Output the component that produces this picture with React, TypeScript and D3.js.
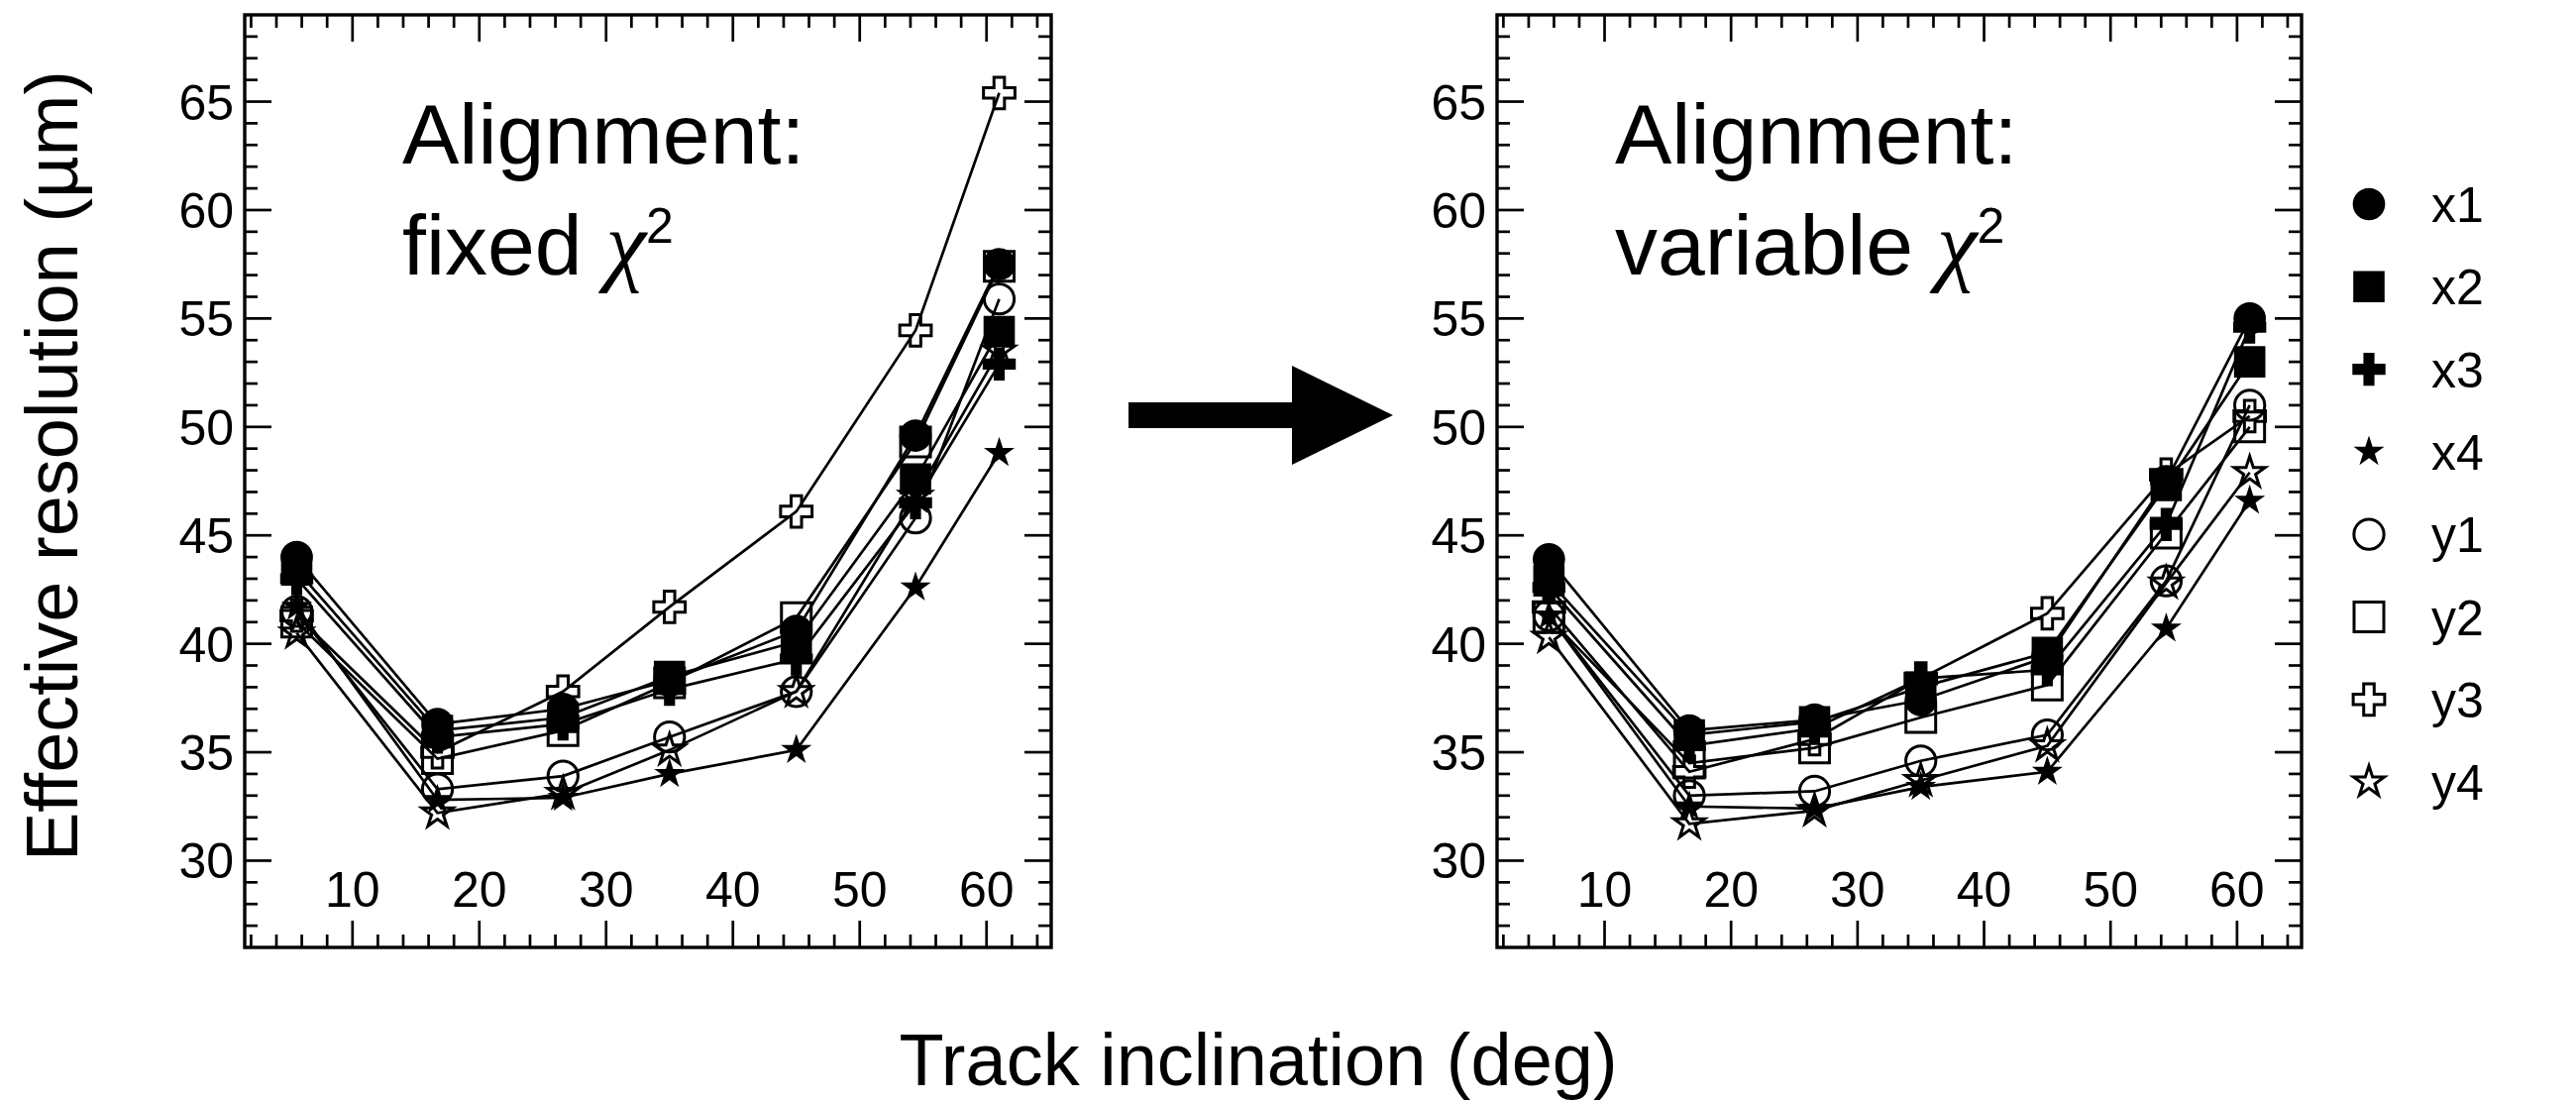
import React from 'react';
import * as d3 from 'd3';

// ---- data ----
const angles = [5.6, 16.7, 26.6, 35, 45, 54.4, 61];
const seriesNames = ['x1', 'x2', 'x3', 'x4', 'y1', 'y2', 'y3', 'y4'];

const fixedX1 = [44.0, 36.3, 37.0, 38.3, 40.6, 49.6, 57.5];
const fixedX2 = [43.4, 36.0, 36.6, 38.5, 40.1, 47.6, 54.4];
const fixedX3 = [43.0, 35.7, 36.3, 37.9, 39.3, 46.5, 52.9];
const fixedX4 = [41.7, 32.8, 32.9, 34.0, 35.1, 42.6, 48.8];
const fixedY1 = [41.5, 33.3, 33.9, 35.7, 37.8, 45.8, 55.9];
const fixedY2 = [41.0, 34.7, 36.0, 38.2, 41.2, 49.3, 57.4];
const fixedY3 = [41.3, 35.0, 37.8, 41.7, 46.1, 54.45, 65.4];
const fixedY4 = [40.5, 32.2, 33.1, 35.1, 37.8, 46.8, 53.5];

const varX1 = [43.9, 36.0, 36.5, 37.4, 39.4, 47.5, 55.0];
const varX2 = [42.9, 35.8, 36.4, 38.0, 39.6, 47.3, 53.0];
const varX3 = [42.6, 35.3, 36.1, 38.4, 38.8, 45.5, 54.6];
const varX4 = [41.3, 32.5, 32.4, 33.4, 34.1, 40.7, 46.6];
const varY1 = [41.3, 33.0, 33.2, 34.6, 35.8, 42.9, 51.0];
const varY2 = [41.2, 34.5, 35.2, 36.6, 38.1, 45.1, 50.0];
const varY3 = [41.7, 34.1, 35.6, 38.4, 41.4, 47.8, 50.5];
const varY4 = [40.3, 31.7, 32.3, 33.7, 35.3, 42.8, 47.9];

const fixedSeries = [fixedX1, fixedX2, fixedX3, fixedX4, fixedY1, fixedY2, fixedY3, fixedY4];
const variableSeries = [varX1, varX2, varX3, varX4, varY1, varY2, varY3, varY4];

const xMajorTicks = [10, 20, 30, 40, 50, 60];
const yMajorTicks = [30, 35, 40, 45, 50, 55, 60, 65];

const xTitle = 'Track inclination (deg)';
const yTitle = 'Effective resolution (µm)';

// ---- style ----
const W = 2600;
const H = 1113;
const FONT = "'Liberation Sans', Arial, Helvetica, sans-serif";
const SERIF = "'Liberation Serif', 'Times New Roman', serif";
const TOP = 15;
const BOTTOM = 956;

const markerStyles = [
  { type: d3.symbolCircle, size: 840, filled: true },
  { type: d3.symbolSquare, size: 1000, filled: true },
  { type: d3.symbolCross, size: 620, filled: true },
  { type: d3.symbolStar, size: 300, filled: true },
  { type: d3.symbolCircle, size: 720, filled: false },
  { type: d3.symbolSquare, size: 900, filled: false },
  { type: d3.symbolCross, size: 560, filled: false },
  { type: d3.symbolStar, size: 300, filled: false },
];

function Marker({ i, cx, cy }: { i: number; cx: number; cy: number }) {
  const m = markerStyles[i];
  const d = d3.symbol(m.type, m.size)() as string;
  return (
    <path
      d={d}
      transform={`translate(${cx},${cy})`}
      fill={m.filled ? '#000' : 'none'}
      stroke="#000"
      strokeWidth={m.filled ? 0 : 3}
      strokeLinejoin="miter"
    />
  );
}

function Panel({
  left,
  right,
  series,
  line2,
  textDx,
}: {
  left: number;
  right: number;
  series: number[][];
  line2: string;
  textDx: number;
}) {
  const x = d3.scaleLinear().domain([1.5, 65.1]).range([left, right]);
  const y = d3.scaleLinear().domain([26, 69]).range([BOTTOM, TOP]);
  const xMinor = d3.range(2, 65, 2).filter((v) => v % 10 !== 0);
  const yMinor = d3.range(27, 69, 1).filter((v) => v % 5 !== 0);
  const line = d3
    .line<number>()
    .x((_, k) => x(angles[k]))
    .y((v) => y(v));
  const MAJ = 27;
  const MIN = 13;
  return (
    <g>
      {/* ticks */}
      <g stroke="#000" strokeWidth={2.7}>
        {xMajorTicks.map((t) => (
          <g key={'xm' + t}>
            <line x1={x(t)} x2={x(t)} y1={BOTTOM} y2={BOTTOM - MAJ} />
            <line x1={x(t)} x2={x(t)} y1={TOP} y2={TOP + MAJ} />
          </g>
        ))}
        {xMinor.map((t) => (
          <g key={'xn' + t}>
            <line x1={x(t)} x2={x(t)} y1={BOTTOM} y2={BOTTOM - MIN} />
            <line x1={x(t)} x2={x(t)} y1={TOP} y2={TOP + MIN} />
          </g>
        ))}
        {yMajorTicks.map((t) => (
          <g key={'ym' + t}>
            <line x1={left} x2={left + MAJ} y1={y(t)} y2={y(t)} />
            <line x1={right} x2={right - MAJ} y1={y(t)} y2={y(t)} />
          </g>
        ))}
        {yMinor.map((t) => (
          <g key={'yn' + t}>
            <line x1={left} x2={left + MIN} y1={y(t)} y2={y(t)} />
            <line x1={right} x2={right - MIN} y1={y(t)} y2={y(t)} />
          </g>
        ))}
      </g>
      <rect
        x={left}
        y={TOP}
        width={right - left}
        height={BOTTOM - TOP}
        fill="none"
        stroke="#000"
        strokeWidth={3.4}
      />
      {/* tick labels */}
      <g fontFamily={FONT} fontSize={50} fill="#000">
        {xMajorTicks.map((t) => (
          <text key={'xl' + t} x={x(t)} y={915} textAnchor="middle">
            {t}
          </text>
        ))}
        {yMajorTicks.map((t) => (
          <text key={'yl' + t} x={left - 11} y={y(t) + 18} textAnchor="end">
            {t}
          </text>
        ))}
      </g>
      {/* annotation */}
      <g fontFamily={FONT} fontSize={86} fill="#000">
        <text x={left + textDx} y={165}>
          Alignment:
        </text>
        <text x={left + textDx} y={277}>
          {line2 + ' '}
          <tspan fontFamily={SERIF} fontStyle="italic" fontSize={92}>
            χ
          </tspan>
          <tspan fontSize={50} dy={-32}>
            2
          </tspan>
        </text>
      </g>
      {/* lines */}
      <g fill="none" stroke="#000" strokeWidth={2.7}>
        {series.map((s, i) => (
          <path key={'l' + i} d={line(s) as string} />
        ))}
      </g>
      {/* markers */}
      <g>
        {series.map((s, i) =>
          s.map((v, k) => <Marker key={'m' + i + '-' + k} i={i} cx={x(angles[k])} cy={y(v)} />)
        )}
      </g>
    </g>
  );
}

export default function App() {
  const legendX = 2391;
  const legendY0 = 206;
  const legendStep = 83.3;
  return (
    <svg
      width={W}
      height={H}
      viewBox={`0 0 ${W} ${H}`}
      style={{ position: 'absolute', left: 0, top: 0, background: '#fff' }}
    >
      <rect x={0} y={0} width={W} height={H} fill="#fff" />
      <Panel left={247} right={1061} series={fixedSeries} line2="fixed" textDx={159} />
      <Panel left={1511} right={2323} series={variableSeries} line2="variable" textDx={119} />

      {/* arrow */}
      <rect x={1139} y={406} width={166} height={26} fill="#000" />
      <polygon points="1304,369 1406,419 1304,469" fill="#000" />

      {/* legend */}
      {seriesNames.map((n, i) => (
        <g key={'lg' + n}>
          <Marker i={i} cx={legendX} cy={legendY0 + i * legendStep} />
          <text
            x={2454}
            y={legendY0 + i * legendStep + 18}
            fontFamily={FONT}
            fontSize={50}
            fill="#000"
          >
            {n}
          </text>
        </g>
      ))}

      {/* axis titles */}
      <text x={1270} y={1095} fontFamily={FONT} fontSize={74} textAnchor="middle" fill="#000">
        {xTitle}
      </text>
      <text
        transform="translate(78,470) rotate(-90)"
        fontFamily={FONT}
        fontSize={74}
        textAnchor="middle"
        fill="#000"
      >
        {yTitle}
      </text>
    </svg>
  );
}
